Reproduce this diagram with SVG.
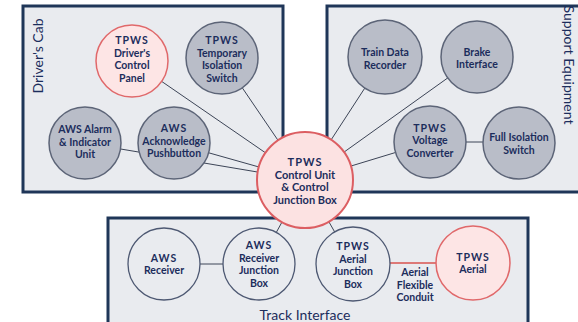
<svg xmlns="http://www.w3.org/2000/svg" width="578" height="322" viewBox="0 0 578 322">
<style>
.box{fill:#e9ebef;stroke:#1f3658;stroke-width:3}
.grey{fill:#b9bdc8;stroke:#5c6477;stroke-width:1.5}
.light{fill:#e9ebef;stroke:#4d5872;stroke-width:1.3}
.pink{fill:#fde5e5;stroke:#e0686a;stroke-width:1.5}
.core{fill:#fce2e2;stroke:#dc5e62;stroke-width:2}
.t{font-family:Lato,"Open Sans","Liberation Sans",sans-serif;font-weight:bold;font-size:10.5px;fill:#1c2d5c;text-anchor:middle}
.tc{font-size:11px}
.ls{letter-spacing:1px}
.area{font-family:Lato,"Open Sans","Liberation Sans",sans-serif;font-size:14px;fill:#1c2d5c;text-anchor:middle}
.ln{stroke:#3c4456;stroke-width:1;fill:none}
.red{stroke:#d9534f;stroke-width:1.3;fill:none}
</style>
<rect width="578" height="322" fill="#ffffff"/>
<g id="areas">
<rect class="box" x="23" y="6" width="260" height="186"/>
<rect class="box" x="327" y="6" width="260" height="186"/>
<rect class="box" x="108" y="218" width="420" height="110"/>
<text class="area" transform="translate(43 56) rotate(-90)">Driver's Cab</text>
<text class="area" transform="translate(564 65) rotate(90)">Support Equipment</text>
<text class="area" x="305" y="320">Track Interface</text>
</g>
<g id="connectors">
<line class="ln" x1="132" y1="61" x2="305" y2="180"/>
<line class="ln" x1="222" y1="58" x2="305" y2="180"/>
<line class="ln" x1="85" y1="143" x2="305" y2="180"/>
<line class="ln" x1="174" y1="143" x2="305" y2="180"/>
<line class="ln" x1="385" y1="57" x2="305" y2="180"/>
<line class="ln" x1="477" y1="57" x2="305" y2="180"/>
<line class="ln" x1="430" y1="142" x2="305" y2="180"/>
<line class="ln" x1="430" y1="142" x2="519" y2="142"/>
<line class="ln" x1="259" y1="264" x2="305" y2="180"/>
<line class="ln" x1="353" y1="264" x2="305" y2="180"/>
<line class="ln" x1="164" y1="264" x2="259" y2="264"/>
<line class="red" x1="353" y1="263" x2="473" y2="263"/>
<text class="t" x="415" y="276">Aerial</text>
<text class="t" x="415" y="288.5">Flexible</text>
<text class="t" x="415" y="301">Conduit</text>
</g>
<g id="driver-control-panel">
<circle class="pink" cx="132" cy="61" r="36"/>
<text class="t ls" x="132" y="44">TPWS</text>
<text class="t" x="132" y="56.5">Driver's</text>
<text class="t" x="132" y="69">Control</text>
<text class="t" x="132" y="81.5">Panel</text>
</g>
<g id="temporary-isolation-switch">
<circle class="grey" cx="222" cy="58" r="36"/>
<text class="t ls" x="222" y="44">TPWS</text>
<text class="t" x="222" y="56.5">Temporary</text>
<text class="t" x="222" y="69">Isolation</text>
<text class="t" x="222" y="81.5">Switch</text>
</g>
<g id="aws-alarm">
<circle class="grey" cx="85" cy="143" r="36"/>
<text class="t" x="85" y="133">AWS Alarm</text>
<text class="t" x="85" y="145.5">&amp; Indicator</text>
<text class="t" x="85" y="158">Unit</text>
</g>
<g id="aws-acknowledge">
<circle class="grey" cx="174" cy="143" r="36"/>
<text class="t ls" x="174" y="132">AWS</text>
<text class="t" x="174" y="144.5">Acknowledge</text>
<text class="t" x="174" y="157">Pushbutton</text>
</g>
<g id="control-unit">
<circle class="core" cx="305" cy="180" r="48"/>
<text class="t tc ls" x="305" y="166">TPWS</text>
<text class="t tc" x="305" y="178.5">Control Unit</text>
<text class="t tc" x="305" y="191">&amp; Control</text>
<text class="t tc" x="305" y="203.5">Junction Box</text>
</g>
<g id="train-data-recorder">
<circle class="grey" cx="385" cy="57" r="37"/>
<text class="t" x="385" y="56">Train Data</text>
<text class="t" x="385" y="68.5">Recorder</text>
</g>
<g id="brake-interface">
<circle class="grey" cx="477" cy="57" r="36"/>
<text class="t" x="477" y="55.5">Brake</text>
<text class="t" x="477" y="68">Interface</text>
</g>
<g id="voltage-converter">
<circle class="grey" cx="430" cy="142" r="36"/>
<text class="t ls" x="430" y="131.5">TPWS</text>
<text class="t" x="430" y="144">Voltage</text>
<text class="t" x="430" y="156.5">Converter</text>
</g>
<g id="full-isolation-switch">
<circle class="grey" cx="519" cy="143" r="36"/>
<text class="t" x="519" y="141">Full Isolation</text>
<text class="t" x="519" y="153.5">Switch</text>
</g>
<g id="aws-receiver">
<circle class="light" cx="164" cy="264" r="36"/>
<text class="t ls" x="164" y="261.5">AWS</text>
<text class="t" x="164" y="274">Receiver</text>
</g>
<g id="aws-receiver-junction-box">
<circle class="light" cx="259" cy="264" r="36"/>
<text class="t ls" x="259" y="249">AWS</text>
<text class="t" x="259" y="261.5">Receiver</text>
<text class="t" x="259" y="274">Junction</text>
<text class="t" x="259" y="286.5">Box</text>
</g>
<g id="aerial-junction-box">
<circle class="light" cx="353" cy="264" r="37"/>
<text class="t ls" x="353" y="250">TPWS</text>
<text class="t" x="353" y="262.5">Aerial</text>
<text class="t" x="353" y="275">Junction</text>
<text class="t" x="353" y="287.5">Box</text>
</g>
<g id="tpws-aerial">
<circle class="pink" cx="473" cy="263" r="37"/>
<text class="t ls" x="473" y="260.5">TPWS</text>
<text class="t" x="473" y="273">Aerial</text>
</g>
</svg>
